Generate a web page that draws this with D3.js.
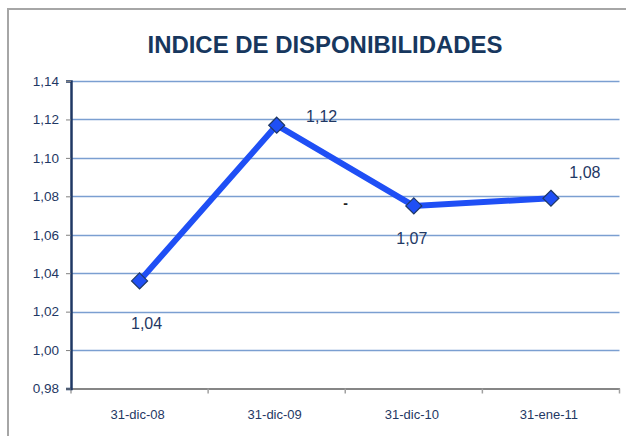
<!DOCTYPE html>
<html>
<head>
<meta charset="utf-8">
<script src="https://cdn.jsdelivr.net/npm/d3@7"></script>
<style>
  body { margin: 0; background: #fff; }
  text { font-family: "Liberation Sans", Arial, sans-serif; }
</style>
</head>
<body>
<div id="chart"></div>
<script>

// data
var categories = ["31-dic-08", "31-dic-09", "31-dic-10", "31-ene-11"];
var values = [1.036, 1.117, 1.075, 1.079];
var labels = ["1,04", "1,12", "1,07", "1,08"];
var yTicks = [0.98, 1.00, 1.02, 1.04, 1.06, 1.08, 1.10, 1.12, 1.14];

var width = 626, height = 436;
var margin = {top: 81, right: 6, bottom: 48, left: 71};

var svg = d3.select("#chart").append("svg")
  .attr("width", width).attr("height", height);

// outer frame
svg.append("rect")
  .attr("x", 8).attr("y", 9)
  .attr("width", 640).attr("height", 460)
  .attr("fill", "#fff").attr("stroke", "#a6a6a6").attr("stroke-width", 2);

var plotW = width - margin.left - margin.right,
  plotH = height - margin.top - margin.bottom;

var x = d3.scaleBand().domain(categories).range([0, plotW - 0.5]);
var y = d3.scaleLinear().domain([0.98, 1.14]).range([plotH + 0.5, 0]);

var g = svg.append("g").attr("transform", "translate(" + margin.left + "," + margin.top + ")");

// title
svg.append("text")
  .attr("x", 325).attr("y", 53)
  .attr("text-anchor", "middle")
  .attr("font-size", 24).attr("font-weight", "bold")
  .attr("fill", "#17375e")
  .attr("textLength", 355).attr("lengthAdjust", "spacingAndGlyphs")
  .text("INDICE DE DISPONIBILIDADES");

// grid
g.append("g").selectAll("line")
  .data(yTicks.filter(function(d){ return d > 0.98; }))
  .enter().append("line")
  .attr("x1", 0).attr("x2", x.range()[1])
  .attr("y1", function(d){ return Math.round(y(d)) + 0.5; })
  .attr("y2", function(d){ return Math.round(y(d)) + 0.5; })
  .attr("stroke", "#7b9fd1").attr("stroke-width", 1.3);

// x axis
var axisX = g.append("g").attr("transform", "translate(0," + y(0.98) + ")")
  .call(d3.axisBottom(x).tickSize(0).tickPadding(21));
axisX.select(".domain").attr("stroke", "#868686").attr("stroke-width", 2);
axisX.selectAll(".tick text").attr("font-size", 13).attr("fill", "#1f3864").attr("dx", -2);
axisX.selectAll(".tk").data(categories.concat([null])).enter().append("line")
  .attr("x1", function(d, i){ return i * x.bandwidth(); })
  .attr("x2", function(d, i){ return i * x.bandwidth(); })
  .attr("y1", 0).attr("y2", 5)
  .attr("stroke", "#a0a0a0").attr("stroke-width", 1.5);

// y axis
var axisY = g.append("g")
  .call(d3.axisLeft(y).tickValues(yTicks).tickSize(5).tickPadding(7)
    .tickFormat(function(d){ return d3.format(".2f")(d).replace(".", ","); }));
axisY.select(".domain").attr("stroke", "#1f3864").attr("stroke-width", 2.5);
axisY.selectAll(".tick line").attr("stroke", "#808080");
axisY.selectAll("text").attr("font-size", 13.5).attr("fill", "#1f3864");

// line
var line = d3.line()
  .x(function(d, i){ return x(categories[i]) + x.bandwidth() / 2; })
  .y(function(d){ return y(d); });

g.append("path").datum(values)
  .attr("d", line)
  .attr("fill", "none").attr("stroke", "#1f4ff5").attr("stroke-width", 6)
  .attr("stroke-linejoin", "miter");

// markers
g.selectAll(".mk").data(values).enter().append("path")
  .attr("d", "M0,-8L8,0L0,8L-8,0Z")
  .attr("transform", function(d, i){
    return "translate(" + (x(categories[i]) + x.bandwidth() / 2) + "," + y(d) + ")";
  })
  .attr("fill", "#1f4ff5").attr("stroke", "#1f3864").attr("stroke-width", 1.2);

// data labels
var labelOffsets = [[7, 48], [45, -3], [-2, 38], [34, -20]];
g.selectAll(".lbl").data(values).enter().append("text")
  .attr("x", function(d, i){ return x(categories[i]) + x.bandwidth() / 2 + labelOffsets[i][0]; })
  .attr("y", function(d, i){ return y(d) + labelOffsets[i][1]; })
  .attr("text-anchor", "middle")
  .attr("font-size", 16).attr("fill", "#1f3864")
  .text(function(d, i){ return labels[i]; });

// stray dash in the original
g.append("text")
  .attr("x", x("31-dic-10") - 2).attr("y", y(1.075) + 2)
  .attr("font-size", 14).attr("font-weight", "bold").attr("fill", "#222")
  .text("-");

</script>
</body>
</html>
